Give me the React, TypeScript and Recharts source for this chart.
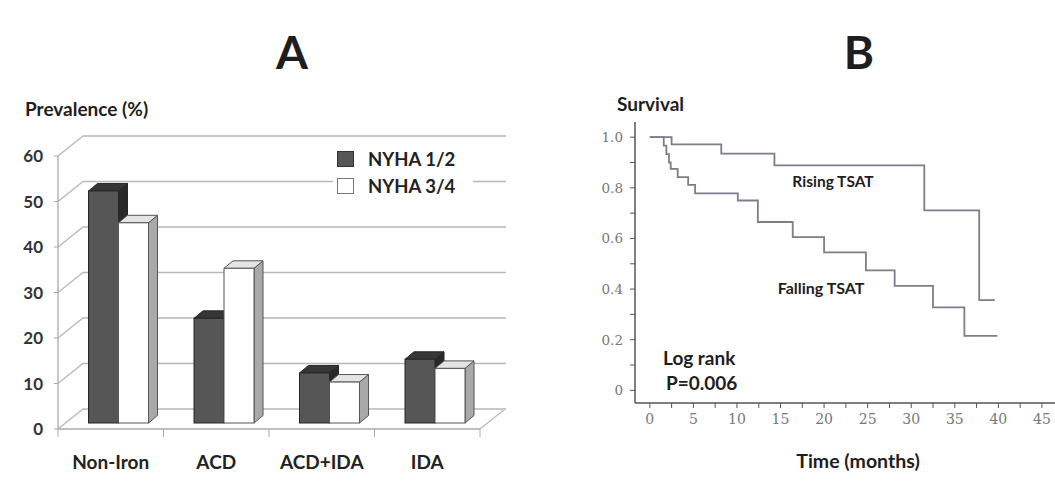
import React from "react";
import {
  Bar,
  BarChart,
  CartesianGrid,
  Legend,
  Line,
  LineChart,
  XAxis,
  YAxis
} from "recharts";

// Panel A: prevalence by anaemia category
const categories = ["Non-Iron", "ACD", "ACD+IDA", "IDA"];
const nyha12 = [51, 23, 11, 14];
const nyha34 = [44, 34, 9, 12];
const prevalenceTicks = [0, 10, 20, 30, 40, 50, 60];

// Panel B: Kaplan-Meier survival
const risingTime = [0, 2.5, 8.2, 14.3, 31.5, 37.8, 39.6];
const risingSurv = [1, 0.972, 0.935, 0.889, 0.711, 0.356, 0.356];
const fallingTime = [0, 1.6, 1.9, 2.2, 2.4, 3.2, 4.4, 5.2, 10.1, 12.4, 16.4, 20.0, 24.8, 28.1, 32.5, 36.1, 39.9];
const fallingSurv = [1, 0.967, 0.933, 0.9, 0.875, 0.842, 0.812, 0.778, 0.75, 0.665, 0.605, 0.545, 0.474, 0.413, 0.328, 0.215, 0.215];
const survivalTicks = [0, 0.1, 0.2, 0.3, 0.4, 0.5, 0.6, 0.7, 0.8, 0.9, 1.0];
const timeTicks = [0, 2.5, 5, 7.5, 10, 12.5, 15, 17.5, 20, 22.5, 25, 27.5, 30, 32.5, 35, 37.5, 40, 42.5, 45];

const barData = categories.map((name, i) => ({ name, a: nyha12[i], b: nyha34[i] }));
const risingData = risingTime.map((t, i) => ({ t, s: risingSurv[i] }));
const fallingData = fallingTime.map((t, i) => ({ t, s: fallingSurv[i] }));

const FONT = "Lato, 'Open Sans', sans-serif";
const PLOT_W = 422;
const BAND = PLOT_W / categories.length;
// depth of the floor / back wall, and where the bars sit inside it
const WALL_DX = 25;
const WALL_DY = 20;
const BAR_SHIFT_X = 7.5;
const BAR_SHIFT_Y = -6;
const BAR_DX = 9;
const BAR_DY = 7.5;

type Palette = { front: string; top: string; side: string; stroke: string };
const darkFaces: Palette = { front: "#565656", top: "#363636", side: "#282828", stroke: "#262626" };
const whiteFaces: Palette = { front: "#ffffff", top: "#e4e4e4", side: "#a9a9a9", stroke: "#555" };

const makeBox = (p: Palette) => (props: any) => {
  const { x, y, width, height } = props;
  if (!height || height <= 0) return <g />;
  const fx = x + BAR_SHIFT_X;
  const fy = y + BAR_SHIFT_Y;
  const top = `${fx},${fy} ${fx + width},${fy} ${fx + width + BAR_DX},${fy - BAR_DY} ${fx + BAR_DX},${fy - BAR_DY}`;
  const side = `${fx + width},${fy} ${fx + width + BAR_DX},${fy - BAR_DY} ${fx + width + BAR_DX},${fy + height - BAR_DY} ${fx + width},${fy + height}`;
  return (
    <g>
      <polygon points={side} fill={p.side} stroke={p.stroke} strokeWidth={1} />
      <polygon points={top} fill={p.top} stroke={p.stroke} strokeWidth={1} />
      <rect x={fx} y={fy} width={width} height={height} fill={p.front} stroke={p.stroke} strokeWidth={1} />
    </g>
  );
};

const wallLine = (props: any) => {
  const { x1, x2, y1, index } = props;
  const pts = `${x1},${y1} ${x1 + WALL_DX},${y1 - WALL_DY} ${x2 + WALL_DX + 1},${y1 - WALL_DY}`;
  return (
    <g key={`wall-${index}`}>
      <polyline points={pts} fill="none" stroke="#b8b8b8" strokeWidth={1.3} />
      {y1 > 420 ? (
        <line x1={x2} y1={y1} x2={x2 + WALL_DX} y2={y1 - WALL_DY} stroke="#b8b8b8" strokeWidth={1.3} />
      ) : null}
    </g>
  );
};

const CategoryTick = (props: any) => {
  const { x, y, payload, index } = props;
  const left = x - BAND / 2;
  return (
    <g>
      <line x1={left} y1={y} x2={left} y2={y + 8} stroke="#aaa" />
      {index === categories.length - 1 ? (
        <line x1={x + BAND / 2} y1={y} x2={x + BAND / 2} y2={y + 8} stroke="#aaa" />
      ) : null}
      <text x={x} y={y + 33} dy="0.35em" textAnchor="middle" fontFamily={FONT} fontWeight={700} fontSize={19} fill="#222">
        {payload.value}
      </text>
    </g>
  );
};

const LegendBox = (props: any) => {
  const items = props.payload || [];
  const swatch = ["#565656", "#ffffff"];
  return (
    <div style={{ background: "#fff", padding: "4px 0 4px 4px", fontFamily: FONT }}>
      {items.map((it: any, i: number) => (
        <div key={it.value} style={{ display: "flex", alignItems: "center", height: 27 }}>
          <div
            style={{
              width: 17,
              height: 16,
              background: swatch[i],
              border: `1px solid ${i === 0 ? "#333" : "#777"}`,
              boxSizing: "border-box"
            }}
          />
          <span style={{ marginLeft: 14, fontSize: 18.5, fontWeight: 700, color: "#222" }}>{it.value}</span>
        </div>
      ))}
    </div>
  );
};

const fmtSurvival = (v: number) => {
  const k = Math.round(v * 10);
  if (k % 2 !== 0) return "";
  return k === 0 ? "0" : v.toFixed(1);
};
const fmtTime = (v: number) => (v % 5 === 0 ? String(v) : "");

function Txt({ x, y, size, children, anchor = "middle" }: any) {
  return (
    <div
      style={{
        position: "absolute",
        left: x,
        top: y,
        transform: anchor === "middle" ? "translate(-50%, -50%)" : "translate(0, -50%)",
        fontFamily: FONT,
        fontWeight: 700,
        fontSize: size,
        color: "#1e1e1e",
        whiteSpace: "nowrap",
        lineHeight: 1
      }}
    >
      {children}
    </div>
  );
}

export default function App() {
  return (
    <div style={{ position: "absolute", left: 0, top: 0, width: 1055, height: 501, background: "#fff", overflow: "hidden" }}>
      <div style={{ position: "absolute", left: 0, top: 0 }}>
        <BarChart
          width={540}
          height={501}
          data={barData}
          margin={{ top: 156, right: 60, left: 18, bottom: 32 }}
          barGap={0}
        >
          <CartesianGrid vertical={false} horizontal={wallLine} />
          <XAxis
            dataKey="name"
            height={40}
            axisLine={{ stroke: "#aaa", strokeWidth: 1.3 }}
            tickLine={false}
            tickSize={0}
            tickMargin={0}
            tick={<CategoryTick />}
            interval={0}
          />
          <YAxis
            width={40}
            domain={[0, 60]}
            ticks={prevalenceTicks}
            axisLine={{ stroke: "#aaa", strokeWidth: 1.3 }}
            tickLine={{ stroke: "#aaa" }}
            tickSize={4}
            tickMargin={11}
            tick={{ fontFamily: FONT, fontWeight: 700, fontSize: 17, fill: "#333" }}
          />
          <Legend
            layout="horizontal"
            verticalAlign="middle"
            align="center"
            content={<LegendBox />}
            wrapperStyle={{ left: 333, top: 141, width: 140, height: 60 }}
          />
          <Bar dataKey="a" name="NYHA 1/2" fill="#565656" barSize={30} shape={makeBox(darkFaces)} isAnimationActive={false} />
          <Bar dataKey="b" name="NYHA 3/4" fill="#ffffff" barSize={30} shape={makeBox(whiteFaces)} isAnimationActive={false} />
        </BarChart>
      </div>

      <div style={{ position: "absolute", left: 580, top: 0 }}>
        <LineChart width={475} height={501} margin={{ top: 122, right: 0, left: 15, bottom: 68 }}>
          <XAxis
            type="number"
            dataKey="t"
            domain={[-1.7, 46.5]}
            allowDataOverflow
            ticks={timeTicks}
            tickFormatter={fmtTime}
            height={30}
            axisLine={{ stroke: "#555", strokeWidth: 1.5 }}
            tickLine={{ stroke: "#555" }}
            tickSize={5}
            tickMargin={6}
            tick={{ fontFamily: "'DejaVu Serif', serif", fontSize: 14, fill: "#777" }}
          />
          <YAxis
            type="number"
            domain={[-0.05, 1.06]}
            allowDataOverflow
            ticks={survivalTicks}
            tickFormatter={fmtSurvival}
            width={40}
            axisLine={{ stroke: "#555", strokeWidth: 1.5 }}
            tickLine={{ stroke: "#555" }}
            tickSize={5}
            tickMargin={7}
            tick={{ fontFamily: "'DejaVu Serif', serif", fontSize: 13.5, fill: "#777" }}
          />
          <Line data={risingData} dataKey="s" type="stepAfter" stroke="#7d7d8c" strokeWidth={1.8} dot={false} activeDot={false} isAnimationActive={false} />
          <Line data={fallingData} dataKey="s" type="stepAfter" stroke="#7d7d8c" strokeWidth={1.8} dot={false} activeDot={false} isAnimationActive={false} />
        </LineChart>
      </div>

      <Txt x={292} y={52} size={46}>A</Txt>
      <Txt x={859} y={52} size={46}>B</Txt>
      <Txt x={25} y={108} size={19} anchor="start">Prevalence (%)</Txt>
      <Txt x={617} y={103} size={19} anchor="start">Survival</Txt>
      <Txt x={833} y={182} size={15.5}>Rising TSAT</Txt>
      <Txt x={821} y={288} size={16}>Falling TSAT</Txt>
      <Txt x={663} y={357} size={19} anchor="start">Log rank</Txt>
      <Txt x={666} y={382} size={19} anchor="start">P=0.006</Txt>
      <Txt x={858} y={461} size={19.5}>Time (months)</Txt>
    </div>
  );
}
